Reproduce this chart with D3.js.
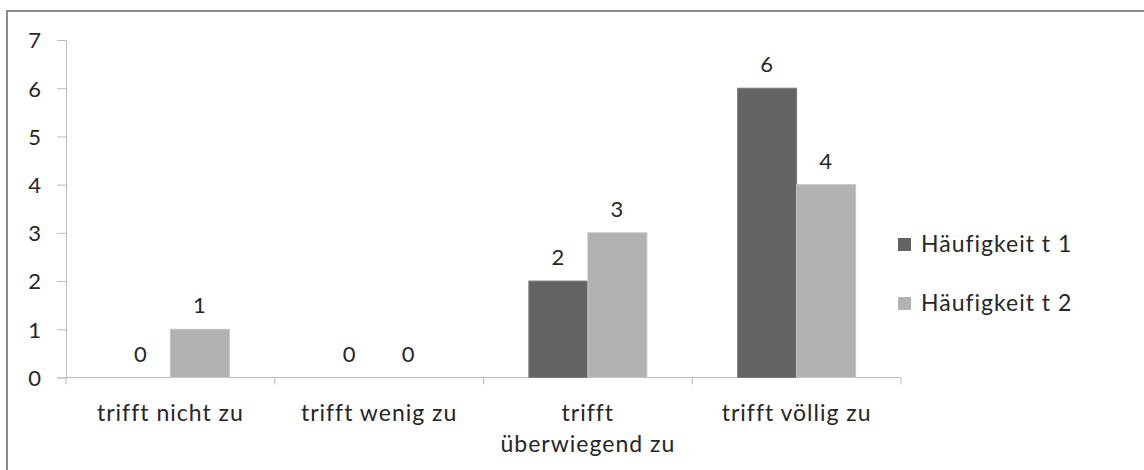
<!DOCTYPE html>
<html><head><meta charset="utf-8">
<script src="https://cdn.jsdelivr.net/npm/d3@7"></script>
<style>
html,body{margin:0;padding:0;background:#fff;}
svg{display:block;}
text{font-family:Lato,"Open Sans",sans-serif;fill:#262626;letter-spacing:1px;}
</style></head>
<body>
<script>
const categories = [["trifft nicht zu"], ["trifft wenig zu"], ["trifft", "überwiegend zu"], ["trifft völlig zu"]];
const seriesNames = ["Häufigkeit t 1", "Häufigkeit t 2"];
const t1Values = [0, 0, 2, 6];
const t2Values = [1, 0, 3, 4];
const yTicks = [0, 1, 2, 3, 4, 5, 6, 7];
const colors = ["#636363", "#b2b2b2"];

const W = 1144, H = 470;
const svg = d3.select("body").append("svg").attr("width", W).attr("height", H);

// outer frame (only top/left visible in original crop)
svg.append("rect").attr("x", 7).attr("y", 11).attr("width", W + 10).attr("height", H + 10)
  .attr("fill", "#fff").attr("stroke", "#8a8a8a").attr("stroke-width", 2);

const x0 = 66, x1 = 901, yTop = 40, yBot = 377.5;
const catIdx = categories.map((d, i) => i);
const x = d3.scaleBand().domain(catIdx).range([x0, x1]).paddingInner(0).paddingOuter(0);
const y = d3.scaleLinear().domain([0, 7]).range([yBot, yTop]);
const barW = 59;
const xs = d3.scaleBand().domain([0, 1]).range([0, barW * 2]);

// y axis
const yAxis = d3.axisLeft(y).tickValues(yTicks).tickSize(9).tickPadding(15).tickFormat(d3.format("d"));
const gy = svg.append("g").attr("transform", `translate(${x0},0)`).call(yAxis);
gy.select(".domain").attr("stroke", "#bdbdbd");
gy.selectAll(".tick line").attr("stroke", "#bdbdbd");
gy.selectAll(".tick text").style("font-size", "22px").attr("fill", "#262626").attr("dy", "0.36em");

// x axis
svg.append("line").attr("x1", x0).attr("x2", x1).attr("y1", yBot).attr("y2", yBot).attr("stroke", "#bdbdbd");
const boundaries = catIdx.map(i => x(i)).concat([x1]);
svg.selectAll(".xtick").data(boundaries).enter().append("line")
  .attr("x1", d => d).attr("x2", d => d).attr("y1", yBot).attr("y2", yBot + 7).attr("stroke", "#bdbdbd");

// category labels
categories.forEach((lines, i) => {
  const t = svg.append("text").attr("x", x(i) + x.bandwidth() / 2).attr("y", 421)
    .attr("text-anchor", "middle").style("font-size", "23px");
  lines.forEach((l, j) => t.append("tspan").attr("x", x(i) + x.bandwidth() / 2).attr("dy", j === 0 ? 0 : 31).text(l));
});

// bars
const series = [t1Values, t2Values];
series.forEach((vals, s) => {
  const g = svg.append("g");
  vals.forEach((v, i) => {
    const bx = x(i) + x.bandwidth() / 2 - barW + xs(s);
    if (v > 0) {
      g.append("rect").attr("x", bx).attr("y", y(v)).attr("width", xs.bandwidth()).attr("height", y(0) - y(v))
        .attr("fill", colors[s]).attr("stroke", s === 0 ? "#7a7a7a" : "#c4c4c4").attr("stroke-width", 1);
    }
    g.append("text").attr("x", bx + xs.bandwidth() / 2).attr("y", y(v) - 16)
      .attr("text-anchor", "middle").style("font-size", "22px").text(v);
  });
});

// legend
seriesNames.forEach((n, i) => {
  const ly = 244 + i * 59;
  svg.append("rect").attr("x", 898).attr("y", ly - 6).attr("width", 13).attr("height", 13).attr("fill", colors[i]);
  svg.append("text").attr("x", 921).attr("y", ly + 8).style("font-size", "23px").text(n);
});
</script>
</body></html>
